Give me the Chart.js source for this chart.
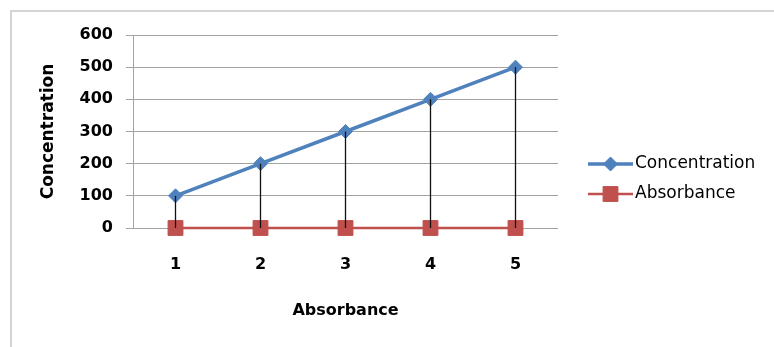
<!DOCTYPE html>
<html>
<head>
<meta charset="utf-8">
<script src="https://cdn.jsdelivr.net/npm/chart.js@4/dist/chart.umd.min.js"></script>
<style>
  html, body { margin: 0; padding: 0; background: #ffffff; }
  #wrap { width: 774px; height: 347px; }
</style>
</head>
<body>
<div id="wrap"><canvas id="chart" width="774" height="347"></canvas></div>
<script>
// Category labels along the x axis
const categories = ['1', '2', '3', '4', '5'];
// Series values
const concentration = [100, 200, 300, 400, 500];
const absorbance = [0, 0, 0, 0, 0];
// Value axis range
const yMin = 0;
const yMax = 600;
const yStep = 100;

const BLUE = '#4F81BD';
const RED = '#C0504D';
const GRID = '#a3a3a3';

// White background plus the light frame around the chart
const framePlugin = {
  id: 'frame',
  beforeDraw(chart) {
    const ctx = chart.ctx;
    ctx.save();
    ctx.fillStyle = '#ffffff';
    ctx.fillRect(0, 0, chart.width, chart.height);
    ctx.strokeStyle = '#d4d4d4';
    ctx.lineWidth = 2;
    ctx.strokeRect(11, 11, chart.width + 20, chart.height + 20);
    ctx.restore();
  }
};

// Vertical high-low lines joining the two series at every category
const dropLinePlugin = {
  id: 'dropLines',
  afterDatasetsDraw(chart) {
    const ctx = chart.ctx;
    const a = chart.getDatasetMeta(0).data;
    const b = chart.getDatasetMeta(1).data;
    ctx.save();
    ctx.strokeStyle = '#111111';
    ctx.lineWidth = 1.3;
    for (let i = 0; i < a.length; i++) {
      ctx.beginPath();
      ctx.moveTo(a[i].x, a[i].y);
      ctx.lineTo(b[i].x, b[i].y);
      ctx.stroke();
    }
    ctx.restore();
  }
};

// Legend on the right: line sample with marker, then the series name
const sideLegendPlugin = {
  id: 'sideLegend',
  afterDraw(chart) {
    const ctx = chart.ctx;
    const items = chart.data.datasets;
    const x0 = 588, x1 = 633, top = 164, gap = 30;
    ctx.save();
    items.forEach((ds, i) => {
      const y = top + i * gap;
      ctx.strokeStyle = ds.borderColor;
      ctx.lineWidth = ds.borderWidth;
      ctx.beginPath();
      ctx.moveTo(x0, y);
      ctx.lineTo(x1, y);
      ctx.stroke();
      ctx.fillStyle = ds.pointBackgroundColor;
      ctx.strokeStyle = ds.pointBorderColor;
      ctx.lineWidth = 1;
      Chart.helpers.drawPoint(ctx, {
        pointStyle: ds.pointStyle,
        radius: ds.pointRadius,
        borderWidth: 1
      }, (x0 + x1) / 2, y);
      ctx.fillStyle = '#000000';
      ctx.font = '17px "DejaVu Sans"';
      ctx.textAlign = 'left';
      ctx.textBaseline = 'middle';
      ctx.fillText(ds.label, x1 + 2, y);
    });
    ctx.restore();
  }
};

new Chart(document.getElementById('chart'), {
  type: 'line',
  data: {
    labels: categories,
    datasets: [
      {
        label: 'Concentration',
        data: concentration,
        borderColor: BLUE,
        backgroundColor: BLUE,
        borderWidth: 3.5,
        pointStyle: 'rectRot',
        pointRadius: 7,
        pointBackgroundColor: BLUE,
        pointBorderColor: BLUE,
        pointBorderWidth: 1,
        tension: 0,
        clip: false
      },
      {
        label: 'Absorbance',
        data: absorbance,
        borderColor: RED,
        backgroundColor: RED,
        borderWidth: 2.5,
        pointStyle: 'rect',
        pointRadius: 10.5,
        pointBackgroundColor: RED,
        pointBorderColor: RED,
        pointBorderWidth: 1,
        tension: 0,
        clip: false
      }
    ]
  },
  options: {
    responsive: false,
    animation: false,
    devicePixelRatio: 1,
    layout: { padding: { left: 0, right: 216, top: 35, bottom: 0 } },
    plugins: {
      legend: { display: false },
      tooltip: { enabled: false }
    },
    scales: {
      x: {
        type: 'category',
        offset: true,
        grid: { display: false, drawTicks: false },
        border: { display: false },
        ticks: {
          color: '#000000',
          padding: 27,
          font: { family: 'DejaVu Sans', size: 16, weight: 'bold' }
        },
        title: {
          display: true,
          text: 'Absorbance',
          color: '#000000',
          padding: { top: 0, bottom: 27 },
          font: { family: 'DejaVu Sans', size: 16, weight: 'bold' }
        },
        afterFit(scale) { scale.height = 119; }
      },
      y: {
        min: yMin,
        max: yMax,
        ticks: {
          stepSize: yStep,
          color: '#000000',
          padding: 13,
          font: { family: 'DejaVu Sans', size: 16, weight: 'bold' }
        },
        grid: { color: GRID, lineWidth: 1, drawTicks: true, tickLength: 7 },
        border: { display: true, color: GRID, width: 1 },
        title: {
          display: true,
          text: 'Concentration',
          color: '#000000',
          padding: { top: 38, bottom: 0 },
          font: { family: 'DejaVu Sans', size: 17, weight: 'bold' }
        },
        afterFit(scale) { scale.width = 133; }
      }
    }
  },
  plugins: [framePlugin, dropLinePlugin, sideLegendPlugin]
});
</script>
</body>
</html>
